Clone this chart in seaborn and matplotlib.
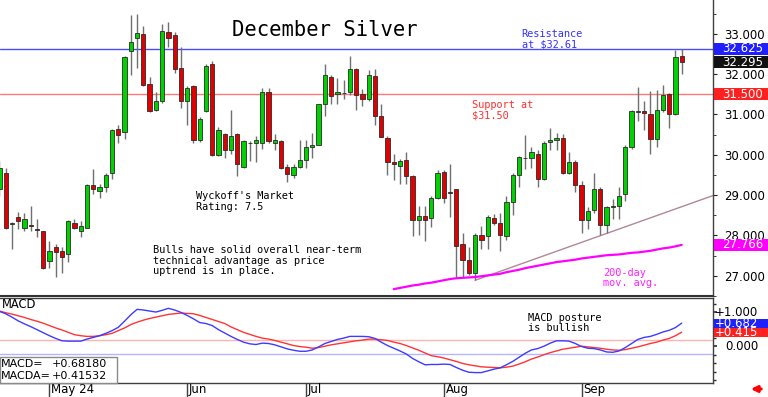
import numpy as np
import pandas as pd
import matplotlib
matplotlib.use("Agg")
import matplotlib.pyplot as plt
import matplotlib.transforms as mtransforms
from matplotlib.patches import Rectangle, FancyArrowPatch
import seaborn as sns

# ---------------- data (December silver, daily) ----------------
open_ = [29.16, 29.55, 28.29, 28.46, 28.19, 28.27, 28.15, 28.10, 27.37, 27.71,
         27.61, 27.54, 28.31, 28.10, 28.19, 29.26, 29.11, 29.19, 29.55, 30.64,
         30.57, 32.58, 32.89, 32.99, 31.75, 31.10, 31.32, 33.04, 32.96, 32.16,
         31.32, 31.71, 30.37, 31.08, 32.24, 29.99, 30.52, 30.13, 30.52, 29.70,
         30.30, 30.30, 30.30, 31.56, 30.30, 30.35, 29.70, 29.50, 29.70, 29.86,
         30.20, 30.25, 31.25, 31.92, 31.51, 31.54, 31.56, 32.12, 31.51, 31.37,
         31.95, 30.95, 30.42, 29.82, 29.72, 29.86, 29.48, 28.39, 28.49, 28.44,
         28.94, 29.57, 29.07, 29.14, 27.78, 27.40, 27.06, 28.02, 27.98, 28.44,
         28.31, 27.98, 28.82, 29.50, 29.92, 29.91, 30.03, 29.40, 30.32, 30.37,
         30.42, 29.55, 29.82, 29.24, 28.39, 28.63, 29.16, 28.27, 28.70, 28.73,
         29.02, 30.18, 31.07, 31.08, 31.00, 30.40, 31.10, 31.51, 31.00, 32.455]
high = [29.84, 29.67, 28.34, 28.58, 28.56, 28.73, 28.41, 28.12, 27.86, 27.78,
        27.71, 28.39, 28.41, 28.36, 29.28, 29.65, 29.28, 29.55, 30.64, 30.74,
        32.45, 33.47, 33.50, 33.18, 31.92, 31.56, 33.23, 33.28, 33.04, 32.67,
        31.71, 31.73, 30.93, 32.24, 32.33, 30.69, 30.54, 31.10, 30.54, 30.37,
        30.35, 30.47, 31.66, 31.66, 30.52, 30.37, 29.77, 29.77, 30.37, 30.37,
        30.54, 31.27, 32.24, 31.97, 31.90, 31.85, 32.45, 32.14, 31.63, 32.09,
        32.12, 31.25, 30.47, 30.03, 29.89, 30.08, 29.50, 28.73, 28.73, 28.99,
        29.62, 29.62, 29.77, 29.16, 28.07, 27.71, 28.07, 28.24, 28.51, 28.53,
        28.56, 28.99, 29.55, 29.96, 30.49, 30.20, 30.13, 30.35, 30.66, 30.54,
        30.52, 30.08, 29.86, 29.36, 28.70, 29.55, 29.19, 28.72, 28.90, 29.21,
        30.25, 31.10, 31.68, 31.34, 31.58, 31.61, 31.73, 31.54, 32.60, 32.625]
low = [28.99, 28.17, 27.66, 28.15, 28.10, 28.10, 27.95, 27.18, 27.20, 26.96,
       27.06, 27.35, 28.15, 27.95, 28.19, 29.02, 28.92, 29.07, 29.40, 30.28,
       30.40, 31.97, 32.14, 31.71, 31.05, 31.08, 31.29, 32.67, 32.02, 31.15,
       30.74, 30.28, 30.32, 31.06, 29.97, 29.96, 29.91, 30.03, 29.48, 29.67,
       29.84, 29.82, 30.15, 30.28, 30.13, 29.65, 29.33, 29.43, 29.67, 29.67,
       29.91, 30.23, 30.95, 31.25, 31.25, 31.37, 31.49, 31.10, 31.22, 31.34,
       30.74, 30.43, 29.50, 29.38, 29.28, 29.28, 27.98, 28.00, 27.86, 28.22,
       28.90, 28.80, 28.46, 26.98, 26.98, 27.01, 26.89, 27.66, 27.66, 28.27,
       27.61, 27.88, 28.51, 29.19, 29.65, 29.67, 29.21, 29.38, 30.13, 30.13,
       29.53, 29.53, 29.07, 28.05, 28.15, 28.56, 28.02, 28.05, 28.41, 28.41,
       28.85, 30.15, 30.83, 30.62, 30.03, 30.20, 31.05, 30.66, 30.98, 32.00]
close = [29.67, 28.19, 28.31, 28.36, 28.41, 28.24, 28.14, 27.20, 27.61, 27.59,
         27.47, 28.36, 28.19, 28.24, 29.26, 29.14, 29.19, 29.50, 30.62, 30.49,
         32.43, 32.79, 33.01, 31.73, 31.08, 31.32, 33.06, 32.89, 32.12, 31.32,
         31.66, 30.37, 30.88, 32.19, 29.99, 30.62, 30.11, 30.47, 29.77, 30.35,
         30.28, 30.37, 31.56, 30.35, 30.37, 29.67, 29.53, 29.70, 29.86, 30.18,
         30.25, 31.25, 31.97, 31.46, 31.56, 31.53, 32.12, 31.49, 31.37, 31.97,
         30.95, 30.45, 29.82, 29.77, 29.84, 29.48, 28.39, 28.49, 28.39, 28.94,
         29.55, 28.94, 29.06, 27.73, 27.40, 27.06, 28.02, 27.90, 28.46, 28.31,
         28.02, 28.82, 29.50, 29.94, 29.91, 30.06, 29.40, 30.28, 30.37, 30.42,
         29.55, 29.82, 29.24, 28.39, 28.61, 29.16, 28.27, 28.70, 28.73, 28.99,
         30.20, 31.08, 31.09, 31.03, 30.40, 31.10, 31.49, 31.00, 32.43, 32.295]

# 200-day moving average (visible from the 64th bar onward)
ma200_first_bar = 63
ma200 = [26.67, 26.70, 26.73, 26.76, 26.78, 26.81, 26.83, 26.86, 26.89, 26.92,
         26.94, 26.95, 26.96, 26.97, 26.99, 27.01, 27.03, 27.05, 27.09, 27.12,
         27.15, 27.19, 27.22, 27.25, 27.28, 27.31, 27.34, 27.36, 27.38, 27.40,
         27.43, 27.45, 27.47, 27.49, 27.51, 27.52, 27.53, 27.55, 27.57, 27.58,
         27.60, 27.62, 27.65, 27.68, 27.70, 27.73, 27.766]

macd = [1.03, 0.96, 0.86, 0.75, 0.66, 0.58, 0.49, 0.40, 0.31, 0.23,
        0.16, 0.15, 0.15, 0.15, 0.21, 0.26, 0.31, 0.38, 0.46, 0.56,
        0.74, 0.93, 1.09, 1.07, 1.04, 1.01, 1.06, 1.12, 1.07, 1.00,
        0.91, 0.81, 0.70, 0.67, 0.61, 0.49, 0.39, 0.29, 0.20, 0.12,
        0.07, 0.05, 0.09, 0.08, 0.04, -0.02, -0.08, -0.12, -0.15, -0.15,
        -0.11, -0.02, 0.08, 0.14, 0.20, 0.24, 0.29, 0.29, 0.29, 0.28,
        0.23, 0.12, 0.02, -0.06, -0.14, -0.23, -0.36, -0.46, -0.55, -0.54,
        -0.54, -0.53, -0.54, -0.63, -0.71, -0.77, -0.78, -0.78, -0.73, -0.68,
        -0.64, -0.55, -0.45, -0.33, -0.21, -0.11, -0.07, 0.00, 0.09, 0.16,
        0.16, 0.15, 0.08, -0.01, -0.06, -0.07, -0.11, -0.17, -0.18, -0.14,
        -0.04, 0.08, 0.20, 0.26, 0.29, 0.35, 0.42, 0.47, 0.55, 0.682]
macd_avg = [1.04, 0.99, 0.95, 0.90, 0.85, 0.79, 0.74, 0.68, 0.61, 0.54,
            0.48, 0.41, 0.34, 0.31, 0.29, 0.29, 0.31, 0.34, 0.38, 0.46,
            0.54, 0.64, 0.71, 0.77, 0.82, 0.86, 0.90, 0.94, 0.96, 0.98,
            0.97, 0.96, 0.91, 0.85, 0.79, 0.73, 0.67, 0.57, 0.49, 0.41,
            0.35, 0.29, 0.24, 0.21, 0.17, 0.12, 0.07, 0.02, -0.01, -0.03,
            -0.06, -0.04, 0.00, 0.04, 0.07, 0.10, 0.13, 0.16, 0.18, 0.21,
            0.21, 0.19, 0.17, 0.12, 0.08, 0.02, -0.05, -0.12, -0.20, -0.28,
            -0.31, -0.35, -0.40, -0.45, -0.51, -0.55, -0.58, -0.61, -0.62, -0.63,
            -0.64, -0.62, -0.59, -0.53, -0.46, -0.38, -0.32, -0.25, -0.19, -0.14,
            -0.09, -0.06, -0.03, 0.00, -0.02, -0.04, -0.06, -0.09, -0.11, -0.12,
            -0.10, -0.06, -0.02, 0.03, 0.08, 0.12, 0.18, 0.23, 0.31, 0.415]

month_labels = ["May 24", "Jun", "Jul", "Aug", "Sep"]
month_first_bar = [8, 30, 49, 71, 93]
price_ticks = [27, 28, 29, 30, 31, 32, 33]
resistance = 32.625
support = 31.50
last_price = 32.295
ma_last = 27.766
macd_text = ["MACD=", "+0.68180", "MACDA=", "+0.41532"]
trend_bars = [76, 97]   # bars whose lows define the uptrend line

# ---------------- figure ----------------
sns.set_theme(style="white")
plt.rcParams['font.family'] = ['DejaVu Sans']

W, H = 768, 397
fig = plt.figure(figsize=(W / 100, H / 100), dpi=100)
fig.patch.set_facecolor("white")


def fx(px):
    return px / W


def fy(py):
    return 1 - py / H


ax = fig.add_axes([0, fy(296), fx(713), 296 / H])
axm = fig.add_axes([0, fy(383), fx(713), (383 - 297.5) / H])

n = len(close)
df = pd.DataFrame({"i": np.arange(n), "open": open_, "high": high,
                   "low": low, "close": close,
                   "macd": macd, "macda": macd_avg})
up = df["close"] >= df["open"]
body_lo = np.minimum(df["open"], df["close"])
body_h = (df["close"] - df["open"]).abs()

XL = (0.1, 114.0)
YL = (26.668, 33.835)

# wicks and bodies
ax.vlines(df["i"], df["low"], df["high"], color="#707070", lw=1.0, zorder=2)
ax.bar(df["i"], body_h, bottom=body_lo, width=0.68,
       color=np.where(up, "#00d200", "#e00000"),
       edgecolor="#2a2a2a", linewidth=0.6, zorder=3)

# resistance / support
ax.axhline(resistance, color="#4b4bff", lw=1.0, zorder=1)
ax.axhline(support, color="#ff7a7a", lw=1.0, zorder=1)

# 200-day moving average
ma_df = pd.DataFrame({"i": np.arange(ma200_first_bar, ma200_first_bar + len(ma200)),
                      "ma": ma200})
sns.lineplot(data=ma_df, x="i", y="ma", ax=ax, color="#ff00ff", linewidth=1.6,
             legend=False, zorder=4)

# uptrend line through two lows, extended to the right edge
x0, x1 = trend_bars
y0, y1 = df["low"][x0], df["low"][x1]
slope = (y1 - y0) / (x1 - x0)
ax.plot([x0, XL[1]], [y0, y0 + slope * (XL[1] - x0)], color="#b08898", lw=1.0,
        zorder=1)

ax.set_xlim(*XL)
ax.set_ylim(*YL)
ax.set_xticks([])
ax.set_xlabel("")
ax.set_ylabel("")
ax.yaxis.tick_right()
ax.set_yticks(price_ticks)
ax.set_yticklabels([f"{v:.3f}" for v in price_ticks])
ax.set_yticks(np.arange(26.5, 34.0, 0.5), minor=True)
ax.tick_params(axis="y", which="both", right=True, left=False, labelright=True,
               labelleft=False, direction="out", colors="#202020")
ax.tick_params(axis="y", which="major", length=3, width=0.8, pad=5,
               labelsize=8.5, labelcolor="black")
ax.tick_params(axis="y", which="minor", length=2, width=0.6)
for s in ["top", "left"]:
    ax.spines[s].set_visible(False)
ax.spines["right"].set_color("#404040")
ax.spines["right"].set_linewidth(1.0)
ax.spines["bottom"].set_color("#333333")
ax.spines["bottom"].set_linewidth(1.5)

# coloured value boxes on the price scale
bt = mtransforms.blended_transform_factory(fig.transFigure, ax.transData)
for val, fc in [(ma_last, "#ff00ff"), (support, "#ff2020"),
                (resistance, "#2020ff"), (last_price, "#111111")]:
    hh = 12 / 41.3
    ax.add_patch(Rectangle((fx(714), val - hh / 2), fx(54), hh, transform=bt,
                           facecolor=fc, edgecolor="none", clip_on=False, zorder=5))
    ax.text(fx(722.5), val, f"{val:.3f}", transform=bt, color="white", fontsize=8.5,
            va="center", ha="left", clip_on=False, zorder=6)

# ---------------- MACD panel ----------------
sns.lineplot(data=df, x="i", y="macda", ax=axm, color="#ff3434", linewidth=1.0,
             legend=False, zorder=3)
sns.lineplot(data=df, x="i", y="macd", ax=axm, color="#3c3cff", linewidth=1.0,
             legend=False, zorder=4)
axm.axhline(0.17, color="#ffb4b4", lw=1.0, zorder=1)
axm.axhline(-0.24, color="#b4b4ff", lw=1.0, zorder=1)
axm.set_xlim(*XL)
axm.set_ylim(-1.088, 1.44)
axm.set_xticks([])
axm.set_xlabel("")
axm.set_ylabel("")
axm.yaxis.tick_right()
axm.set_yticks([0, 1])
axm.set_yticklabels([])
axm.set_yticks(np.arange(-1.0, 1.5, 0.25), minor=True)
axm.tick_params(axis="y", which="both", right=True, left=False, direction="out",
                colors="#303030")
axm.tick_params(axis="y", which="major", length=3)
axm.tick_params(axis="y", which="minor", length=2)
axm.spines["left"].set_visible(False)
for s in ["top", "right", "bottom"]:
    axm.spines[s].set_color("#404040")
    axm.spines[s].set_linewidth(1.0)

btm = mtransforms.blended_transform_factory(fig.transFigure, axm.transData)
for val, fc in [(macd_avg[-1], "#ff2020"), (macd[-1], "#2020ff")]:
    hh = 9 / 34
    axm.add_patch(Rectangle((fx(714), val - hh / 2), fx(54), hh, transform=btm,
                            facecolor=fc, edgecolor="none", clip_on=False, zorder=5))
    axm.text(fx(758), val, f"{val:+.3f}", transform=btm, color="white", fontsize=8.5,
             va="center", ha="right", clip_on=False, zorder=6)
for val, txt in [(1.0, "+1.000"), (0.0, "0.000")]:
    axm.text(fx(758), val, txt, transform=btm, color="black", fontsize=8.5,
             va="center", ha="right", clip_on=False, zorder=4)

# month separators and labels below MACD panel
bx = mtransforms.blended_transform_factory(axm.transData, fig.transFigure)
for pos, lab in zip(month_first_bar, month_labels):
    axm.plot([pos, pos], [fy(383), fy(397)], transform=bx, color="#404040",
             lw=1.0, clip_on=False)
    axm.text(pos + 0.3, fy(393.5), lab, transform=bx, fontsize=8.5,
             ha="left", va="baseline", clip_on=False, color="black")

# ---------------- annotations ----------------
mono = "DejaVu Sans Mono"


def ftext(x, y, s, **kw):
    fig.text(fx(x), fy(y), s, va="baseline", ha="left", **kw)


ftext(231.5, 36, "December Silver", family=mono, fontsize=14.8, color="black")
ftext(521.5, 36.7, "Resistance", family=mono, fontsize=7.4, color="#3232ff")
ftext(521.5, 47.3, "at $32.61", family=mono, fontsize=7.4, color="#3232ff")
ftext(471.7, 108.3, "Support at", family=mono, fontsize=7.4, color="#ff3030")
ftext(471.7, 118.6, "$31.50", family=mono, fontsize=7.4, color="#ff3030")
ftext(196.5, 199.3, "Wyckoff's Market", family=mono, fontsize=7.4, color="black")
ftext(196.5, 210.0, "Rating: 7.5", family=mono, fontsize=7.4, color="black")
for k, line in enumerate(["Bulls have solid overall near-term",
                          "technical advantage as price",
                          "uptrend is in place."]):
    ftext(153.3, 253.3 + 10.4 * k, line, family=mono, fontsize=7.4, color="black")
ftext(603.3, 276.0, "200-day", family=mono, fontsize=7.4, color="#ff22ff")
ftext(603.3, 286.3, "mov. avg.", family=mono, fontsize=7.4, color="#ff22ff")
ftext(528.3, 321.0, "MACD posture", family=mono, fontsize=7.4, color="black")
ftext(528.3, 331.3, "is bullish", family=mono, fontsize=7.4, color="black")
ftext(1.5, 307.7, "MACD", fontsize=8.3, color="black")

# MACD value box
fig.add_artist(Rectangle((fx(0), fy(383)), fx(117), (383 - 357) / H,
                         transform=fig.transFigure, facecolor="white",
                         edgecolor="#8a8a8a", linewidth=1.0, zorder=5))
ftext(0.5, 367.0, macd_text[0], fontsize=8.0, color="black", zorder=6)
ftext(51.5, 367.0, macd_text[1], fontsize=8.0, color="black", zorder=6)
ftext(0.5, 378.7, macd_text[2], fontsize=8.0, color="black", zorder=6)
ftext(51.5, 378.7, macd_text[3], fontsize=8.0, color="black", zorder=6)

# small red arrow bottom right
fig.add_artist(FancyArrowPatch(
    (fx(764), fy(389)), (fx(748), fy(389)), transform=fig.transFigure,
    arrowstyle="-|>", mutation_scale=9, color="#ff0000", lw=2.2))

fig.savefig("out.png", dpi=100, facecolor="white")
